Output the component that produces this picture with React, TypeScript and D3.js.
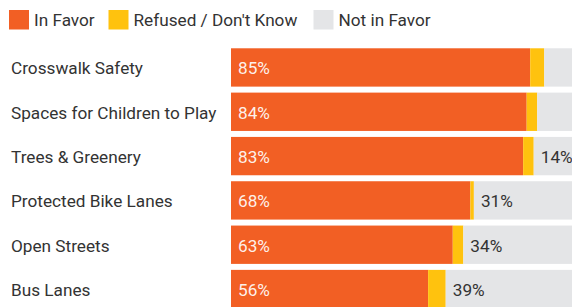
import React from "react";
import * as d3 from "d3";

const categories = [
  "Crosswalk Safety",
  "Spaces for Children to Play",
  "Trees & Greenery",
  "Protected Bike Lanes",
  "Open Streets",
  "Bus Lanes",
];
const inFavor = [85, 84, 83, 68, 63, 56];
const refused = [4, 3, 3, 1, 3, 5];
const notInFavor = [11, 13, 14, 31, 34, 39];
const seriesNames = ["In Favor", "Refused / Don't Know", "Not in Favor"];
const seriesColors = ["#f25f24", "#ffc20e", "#e4e5e7"];
const showNotLabel = [false, false, true, true, true, true];

const W = 572;
const H = 307;
const FONT = "Roboto, sans-serif";

export default function App() {
  const x = d3.scaleLinear().domain([0, 100]).range([231, 583]);
  const y = d3
    .scaleBand<string>()
    .domain(categories)
    .range([44.3, 44.3 + 44.65 * 6])
    .paddingInner(0.135)
    .paddingOuter(0.09);

  const rows = categories.map((c, i) => {
    const vals = [inFavor[i], refused[i], notInFavor[i]];
    let acc = 0;
    const segs = vals.map((v, k) => {
      const s = { k, x0: acc, x1: acc + v, v };
      acc += v;
      return s;
    });
    return { c, i, segs };
  });

  const legendX = [9, 108.5, 313.5];
  const fs = 17.2;

  return (
    <svg
      width={W}
      height={H}
      style={{ position: "absolute", left: 0, top: 0, background: "#fff" }}
      fontFamily={FONT}
    >
      {seriesNames.map((n, k) => (
        <g key={n} transform={`translate(${legendX[k]},10)`}>
          <rect width={20} height={19.5} fill={seriesColors[k]} />
          <text x={25} y={15.6} fontSize={fs} fill="#333">
            {n}
          </text>
        </g>
      ))}
      {rows.map((r) => {
        const y0 = y(r.c)!;
        const bh = y.bandwidth();
        return (
          <g key={r.c}>
            <text x={11} y={y0 + bh / 2 + 6.8} fontSize={fs} fill="#333">
              {r.c}
            </text>
            {r.segs.map((s) => (
              <rect
                key={s.k}
                x={x(s.x0)}
                y={y0}
                width={x(s.x1) - x(s.x0)}
                height={bh}
                fill={seriesColors[s.k]}
              />
            ))}
            <text
              x={x(0) + 7}
              y={y0 + bh / 2 + 6.8}
              fontSize={fs}
              fill="#fff"
              fillOpacity={0.92}
            >
              {inFavor[r.i]}%
            </text>
            {showNotLabel[r.i] && (
              <text
                x={x(r.segs[2].x0) + 7}
                y={y0 + bh / 2 + 6.8}
                fontSize={fs}
                fill="#333"
              >
                {notInFavor[r.i]}%
              </text>
            )}
          </g>
        );
      })}
    </svg>
  );
}
